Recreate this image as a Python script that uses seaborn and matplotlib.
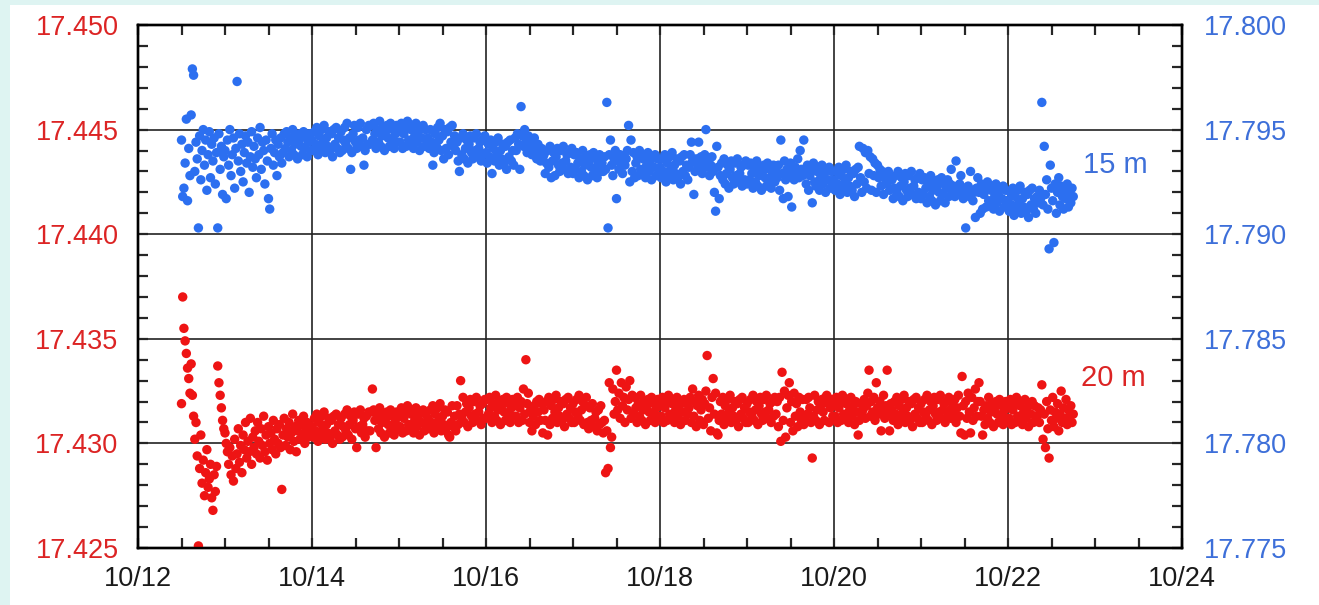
import datetime as dt

import matplotlib
matplotlib.use("Agg")
import matplotlib.pyplot as plt
import matplotlib.dates as mdates
from matplotlib.ticker import MultipleLocator, FormatStrFormatter
from matplotlib.patches import Rectangle
import pandas as pd
import seaborn as sns

# Readings every 20 minutes, stored as integers in units of 1e-4.
# 15 m series is relative to 17.790 (right axis), 20 m series relative to 17.425 (left axis).
BLUE_BASE = 17.790
RED_BASE = 17.425
UNIT = 1e-4
STEP = "20min"

# ---- 15 m ----
blue_1012 = [45, 18, 22, 34, 55, 16, 41, 28, 57, 79, 76, 30, 44, 36, 3, 47, 26, 40,
             50, 33, 45, 21, 38, 49, 27, 43, 35, 46, 24, 39, 3, 48, 31, 42, 19, 37]
blue_1013 = [40, 17, 45, 33, 50, 28, 38, 46, 22, 41, 73, 35, 48, 30, 43, 25, 39, 47, 34, 44, 20, 37, 49, 32,
             42, 36, 27, 46, 38, 51, 31, 44, 40, 24, 45, 35, 17, 12, 41, 48, 33, 39, 45, 28, 43, 37, 46, 34,
             39, 48, 41, 49, 44, 37, 46, 40, 50, 38, 43, 47, 36, 45, 48, 42, 38, 49, 41, 46, 37, 44, 48, 40]
blue_1014 = [45, 40, 49, 43, 51, 38, 47, 41, 50, 44, 52, 39, 46, 42, 49, 40, 48, 37, 50, 43, 51, 41, 46, 39,
             49, 40, 45, 51, 43, 53, 41, 46, 31, 39, 48, 52, 44, 41, 51, 45, 53, 42, 46, 33, 40, 50, 43, 52,
             43, 52, 45, 53, 48, 41, 50, 44, 54, 42, 47, 51, 40, 49, 52, 46, 42, 53, 45, 50, 41, 48, 52, 44]
blue_1015 = [49, 44, 53, 41, 48, 51, 42, 54, 45, 43, 50, 52, 41, 47, 53, 44, 49, 40, 51, 46, 52, 42, 50, 45,
             46, 41, 50, 44, 33, 39, 48, 42, 51, 45, 53, 40, 47, 36, 50, 41, 49, 38, 51, 44, 52, 42, 47, 40,
             44, 35, 30, 46, 38, 48, 36, 41, 45, 34, 43, 47, 39, 36, 46, 40, 48, 37, 41, 44, 35, 45, 38, 47]
blue_1016 = [39, 34, 43, 37, 45, 29, 41, 35, 44, 38, 46, 33, 40, 36, 43, 34, 42, 31, 44, 37, 45, 35, 40, 33,
             46, 40, 48, 43, 31, 61, 47, 42, 50, 44, 39, 47, 41, 45, 38, 43, 46, 40, 36, 43, 39, 35, 41, 37,
             38, 29, 34, 40, 32, 42, 27, 35, 39, 28, 37, 41, 33, 30, 40, 34, 42, 31, 35, 38, 29, 39, 32, 41]
blue_1017 = [29, 38, 31, 39, 34, 27, 36, 30, 40, 28, 33, 37, 26, 35, 38, 32, 28, 39, 31, 36, 27, 34, 38, 30,
             34, 30, 37, 31, 63, 3, 38, 45, 33, 28, 36, 40, 17, 35, 31, 38, 34, 29, 37, 33, 36, 40, 52, 25,
             45, 30, 39, 27, 34, 37, 28, 40, 31, 29, 36, 38, 27, 33, 39, 30, 35, 26, 37, 32, 38, 28, 36, 31]
blue_1018 = [32, 27, 36, 30, 38, 25, 34, 28, 37, 31, 39, 26, 33, 29, 36, 27, 35, 24, 37, 30, 38, 28, 33, 26,
             32, 38, 44, 35, 19, 30, 36, 33, 44, 31, 37, 29, 34, 38, 50, 32, 36, 28, 33, 37, 30, 20, 11, 42,
             32, 17, 28, 34, 26, 36, 24, 29, 33, 22, 31, 35, 27, 24, 34, 28, 36, 25, 29, 32, 23, 33, 26, 35]
blue_1019 = [24, 33, 26, 34, 29, 22, 31, 25, 35, 23, 28, 32, 21, 30, 33, 27, 23, 34, 26, 31, 22, 29, 33, 25,
             30, 27, 33, 21, 45, 29, 17, 35, 26, 31, 18, 28, 34, 13, 30, 26, 32, 29, 36, 27, 40, 31, 28, 45,
             29, 24, 33, 21, 28, 31, 15, 34, 25, 23, 30, 32, 21, 27, 33, 24, 29, 20, 31, 26, 32, 22, 30, 25]
blue_1020 = [26, 21, 30, 24, 32, 19, 28, 22, 31, 25, 33, 20, 27, 23, 30, 21, 29, 18, 31, 24, 32, 42, 27, 20,
             41, 25, 39, 22, 40, 29, 37, 21, 36, 28, 34, 20, 33, 27, 31, 23, 30, 19, 28, 26, 24, 30, 21, 27,
             26, 17, 22, 28, 20, 30, 18, 23, 27, 16, 25, 29, 21, 18, 28, 22, 30, 19, 23, 26, 17, 27, 20, 29]
blue_1021 = [17, 26, 19, 27, 22, 15, 24, 18, 28, 16, 21, 25, 14, 23, 26, 20, 16, 27, 19, 24, 15, 22, 26, 18,
             24, 31, 20, 23, 18, 35, 21, 19, 24, 28, 20, 17, 22, 3, 19, 23, 18, 30, 21, 16, 20, 8, 22, 27,
             20, 10, 24, 12, 19, 22, 13, 25, 16, 14, 21, 23, 12, 18, 24, 15, 20, 11, 22, 17, 23, 13, 21, 16]
blue_1022 = [16, 11, 20, 14, 22, 9, 18, 12, 21, 15, 23, 10, 17, 13, 20, 11, 19, 8, 21, 14, 22, 12, 17, 10,
             18, 15, 21, 17, 63, 14, 42, 19, 26, 12, -7, 33, 22, 16, -4, 24, 10, 20, 27, 14, 23, 18, 12, 21,
             17, 24, 13, 19, 15, 22, 18]

# ---- 20 m ----
red_1012 = [69, 120, 105, 99, 93, 86, 81, 74, 88, 73, 63, 52, 60, 44, 1, 38, 54, 31,
            42, 25, 36, 47, 29, 33, 40, 24, 18, 35, 27, 39, 87, 79, 73, 67, 61, 57]
red_1013 = [55, 50, 46, 40, 48, 35, 44, 32, 52, 38, 45, 57, 41, 49, 36, 54, 47, 60, 43, 51, 46, 62, 40, 53,
            48, 56, 45, 60, 51, 43, 57, 49, 63, 46, 54, 42, 58, 50, 55, 47, 61, 52, 45, 57, 50, 59, 48, 28,
            54, 62, 49, 57, 53, 60, 47, 55, 64, 51, 58, 46, 56, 61, 52, 59, 54, 63, 50, 57, 60, 53, 58, 55]
red_1014 = [58, 53, 62, 56, 64, 51, 60, 54, 63, 57, 65, 52, 59, 55, 62, 53, 61, 50, 63, 56, 64, 54, 59, 52,
            62, 53, 58, 64, 56, 66, 54, 59, 63, 52, 61, 65, 57, 48, 64, 58, 66, 55, 59, 62, 53, 63, 56, 65,
            56, 65, 76, 66, 61, 48, 63, 57, 67, 55, 60, 64, 53, 62, 65, 59, 55, 66, 58, 63, 54, 61, 65, 57]
red_1015 = [63, 58, 67, 55, 62, 65, 56, 68, 59, 57, 64, 66, 55, 61, 67, 58, 63, 54, 65, 60, 66, 56, 64, 59,
            62, 57, 66, 60, 68, 55, 64, 58, 67, 61, 69, 56, 63, 59, 66, 57, 65, 54, 53, 60, 68, 58, 63, 56,
            68, 59, 64, 80, 62, 72, 60, 65, 69, 58, 67, 71, 63, 60, 70, 64, 72, 61, 65, 68, 59, 69, 62, 71]
red_1016 = [62, 71, 64, 72, 67, 60, 69, 63, 73, 61, 66, 70, 59, 68, 71, 65, 61, 72, 64, 69, 60, 67, 71, 63,
            68, 63, 72, 60, 67, 70, 61, 76, 64, 90, 69, 74, 60, 66, 56, 63, 68, 59, 70, 65, 71, 61, 69, 55,
            66, 61, 70, 54, 72, 59, 68, 62, 71, 65, 73, 60, 67, 63, 70, 61, 69, 58, 71, 64, 72, 62, 67, 60]
red_1017 = [69, 60, 65, 71, 63, 73, 61, 66, 70, 59, 68, 72, 60, 57, 67, 61, 69, 58, 62, 65, 56, 66, 59, 68,
            60, 55, 61, 36, 56, 38, 79, 48, 53, 76, 64, 70, 85, 66, 74, 62, 79, 68, 72, 60, 77, 66, 71, 80,
            62, 73, 64, 72, 67, 60, 69, 63, 73, 61, 66, 70, 59, 68, 71, 65, 61, 72, 64, 69, 60, 67, 71, 63]
red_1018 = [68, 63, 72, 60, 67, 70, 61, 73, 64, 62, 69, 71, 60, 66, 72, 63, 68, 59, 70, 65, 71, 61, 69, 64,
            67, 72, 60, 76, 63, 70, 58, 68, 73, 61, 66, 71, 59, 69, 75, 92, 62, 67, 56, 72, 81, 64, 74, 55,
            54, 61, 70, 64, 72, 59, 68, 62, 71, 65, 73, 60, 67, 63, 70, 61, 69, 58, 71, 64, 72, 62, 67, 60]
red_1019 = [69, 60, 65, 71, 63, 73, 61, 66, 70, 59, 68, 72, 64, 61, 71, 65, 73, 62, 66, 69, 60, 70, 63, 72,
            64, 70, 58, 72, 51, 84, 61, 75, 53, 67, 73, 79, 60, 70, 56, 74, 63, 69, 58, 72, 65, 61, 71, 59,
            62, 71, 64, 72, 67, 60, 43, 63, 73, 61, 66, 70, 59, 68, 71, 65, 61, 72, 73, 69, 60, 67, 71, 63]
red_1020 = [68, 63, 72, 60, 67, 70, 61, 73, 64, 62, 69, 71, 60, 66, 72, 63, 68, 59, 70, 65, 54, 61, 69, 64,
            66, 71, 62, 68, 74, 85, 63, 70, 65, 72, 61, 79, 67, 64, 70, 56, 66, 73, 62, 68, 85, 64, 56, 69,
            66, 61, 70, 64, 72, 59, 68, 62, 71, 65, 73, 60, 67, 63, 70, 61, 69, 58, 71, 64, 72, 62, 67, 60]
red_1021 = [69, 60, 65, 71, 63, 73, 61, 66, 70, 59, 68, 72, 64, 61, 71, 65, 73, 62, 66, 69, 60, 70, 63, 72,
            66, 62, 69, 64, 71, 60, 67, 73, 63, 55, 82, 68, 54, 70, 62, 74, 65, 55, 72, 61, 67, 76, 63, 70,
            79, 70, 63, 54, 66, 59, 68, 62, 72, 60, 65, 69, 58, 67, 70, 64, 60, 71, 63, 68, 59, 66, 70, 62]
red_1022 = [67, 62, 71, 59, 66, 69, 60, 72, 63, 61, 68, 70, 59, 65, 71, 62, 67, 58, 69, 64, 70, 60, 68, 63,
            63, 67, 60, 66, 78, 52, 64, 48, 70, 57, 43, 66, 61, 72, 58, 65, 62, 69, 56, 64, 75, 60, 67, 62,
            71, 59, 66, 63, 68, 60, 64]

# first sample of each daily block
day_starts = [dt.datetime(2008, 10, 12, 12, 0)] + [dt.datetime(2008, 10, d) for d in range(13, 23)]
blue_days = [blue_1012, blue_1013, blue_1014, blue_1015, blue_1016, blue_1017,
             blue_1018, blue_1019, blue_1020, blue_1021, blue_1022]
red_days = [red_1012, red_1013, red_1014, red_1015, red_1016, red_1017,
            red_1018, red_1019, red_1020, red_1021, red_1022]


def to_frame(blocks, base):
    parts = []
    for start, vals in zip(day_starts, blocks):
        t = pd.date_range(start, periods=len(vals), freq=STEP)
        parts.append(pd.DataFrame({"time": t, "value": [base + v * UNIT for v in vals]}))
    return pd.concat(parts, ignore_index=True)


blue_df = to_frame(blue_days, BLUE_BASE)
red_df = to_frame(red_days, RED_BASE)

CYAN = "#def4f2"
RED = "#ee1414"
BLUE = "#2c6ff0"
RED_TXT = "#dc2424"
BLUE_TXT = "#3d6fd9"

sns.set_style("white")
plt.rcParams["font.family"] = ["Liberation Sans", "DejaVu Sans"]

W, H = 1319, 605
fig = plt.figure(figsize=(W / 100, H / 100), dpi=100, facecolor=CYAN)
fig.patches.append(Rectangle((10 / W, 0), 1 - 10 / W, 1 - 5 / H, transform=fig.transFigure,
                             facecolor="white", edgecolor="none", zorder=-1))

ax = fig.add_axes([138 / W, 1 - 548 / H, (1182 - 138) / W, (548 - 25) / H])
ax.set_facecolor("white")
ax2 = ax.twinx()

MARKER_SIZE = 46
sns.scatterplot(data=red_df, x="time", y="value", ax=ax, color=RED, s=MARKER_SIZE,
                linewidth=0, edgecolor="none", zorder=3)
sns.scatterplot(data=blue_df, x="time", y="value", ax=ax2, color=BLUE, s=MARKER_SIZE,
                linewidth=0, edgecolor="none", zorder=3)

ax.set_xlim(dt.datetime(2008, 10, 12), dt.datetime(2008, 10, 24))
ax.xaxis.set_major_locator(mdates.DayLocator(bymonthday=[12, 14, 16, 18, 20, 22, 24]))
ax.xaxis.set_minor_locator(mdates.HourLocator(byhour=[0, 12]))
ax.xaxis.set_major_formatter(mdates.DateFormatter("%m/%d"))

ax.set_ylim(17.425, 17.450)
ax2.set_ylim(17.775, 17.800)
for a in (ax, ax2):
    a.yaxis.set_major_locator(MultipleLocator(0.005))
    a.yaxis.set_minor_locator(MultipleLocator(0.001))
    a.yaxis.set_major_formatter(FormatStrFormatter("%.3f"))
    a.set_xlabel("")
    a.set_ylabel("")
    for sp in a.spines.values():
        sp.set_linewidth(1.7)
        sp.set_color("black")
        sp.set_visible(True)

ax.grid(True, which="major", axis="both", color="#222222", linewidth=1.2)
ax.set_axisbelow(True)
ax2.grid(False)

ax.tick_params(axis="x", which="both", direction="in", top=True, bottom=True,
               width=1.6, length=7, labelsize=19.5, pad=13, labelcolor="#1a1a1a")
ax.tick_params(axis="y", which="both", direction="in", left=True, right=False,
               width=1.6, length=7, labelsize=19.5, pad=14, labelcolor=RED_TXT)
ax2.tick_params(axis="y", which="both", direction="in", right=True, left=False,
                width=1.6, length=7, labelsize=19.5, pad=16, labelcolor=BLUE_TXT)

ax.text(0.905, 0.732, "15 m", transform=ax.transAxes, color=BLUE_TXT,
        fontsize=21, ha="left", va="center")
ax.text(0.903, 0.325, "20 m", transform=ax.transAxes, color=RED_TXT,
        fontsize=21, ha="left", va="center")

fig.savefig("out.png", dpi=100, facecolor=fig.get_facecolor())
